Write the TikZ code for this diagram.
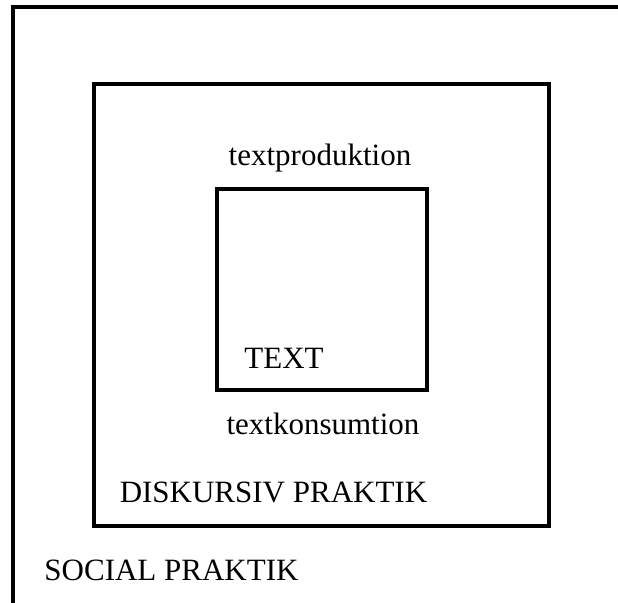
\documentclass[tikz,border=0pt]{standalone}
\usepackage{fontspec}
\setmainfont{Liberation Serif}
\usetikzlibrary{positioning}
\tikzstyle{frame}=[draw,line width=2pt,rectangle,inner sep=0pt]
\tikzstyle{label}=[inner sep=0pt,anchor=base,font=\fontsize{15.5}{18}\selectfont]

\begin{document}
\begin{tikzpicture}[x=0.5pt,y=-0.5pt]
    \useasboundingbox (0,0) rectangle (618,603);
    \clip (0,0) rectangle (618,603);
    % Three nested frames
    \node[frame,minimum width=323.5pt,minimum height=326.5pt] (social) at (336.5,333.5) {};
    \node[frame,minimum width=227.5pt,minimum height=221pt] (diskursiv) at (321.5,305) {};
    \node[frame,minimum width=105pt,minimum height=100.5pt] (text) at (322,289.5) {};
    % Then the labels
    \node[label] (produktion) at (320,166) {textproduktion};
    \node[label] (textlabel) at (284,369) {TEXT};
    \node[label] (konsumtion) at (323,435) {textkonsumtion};
    \node[label] (diskurslabel) at (273.5,503) {DISKURSIV PRAKTIK};
    \node[label] (sociallabel) at (171.5,581) {SOCIAL PRAKTIK};
\end{tikzpicture}
\end{document}
